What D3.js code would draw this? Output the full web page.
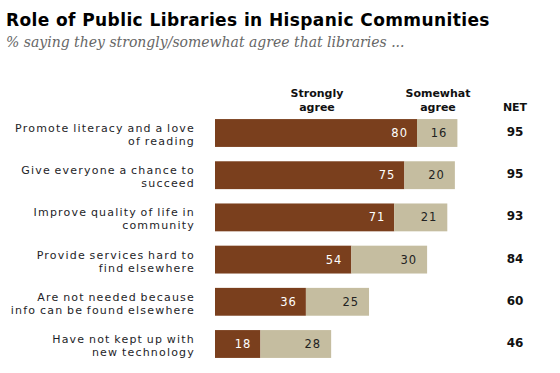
<!DOCTYPE html>
<html>
<head>
<meta charset="utf-8">
<script src="https://cdn.jsdelivr.net/npm/d3@7"></script>
<style>
  body { margin: 0; background: #fff; }
  svg { display: block; }
  .label { font-family: "DejaVu Sans", sans-serif; font-size: 11px; fill: #1e1e28; letter-spacing: 1.2px; word-spacing: -1px; }
  .val { font-family: "DejaVu Sans", sans-serif; font-size: 11.5px; letter-spacing: 1px; }
  .head { font-family: "DejaVu Sans", sans-serif; font-size: 11px; font-weight: bold; fill: #111; }
  .net { font-family: "DejaVu Sans", sans-serif; font-size: 12px; font-weight: bold; fill: #111; }
</style>
</head>
<body>
<div id="chart"></div>
<script>
var items = [
    ["Promote literacy and a love", "of reading"],
    ["Give everyone a chance to", "succeed"],
    ["Improve quality of life in", "community"],
    ["Provide services hard to", "find elsewhere"],
    ["Are not needed because", "info can be found elsewhere"],
    ["Have not kept up with", "new technology"]
];
var strongly = [80, 75, 71, 54, 36, 18];
var somewhat = [16, 20, 21, 30, 25, 28];
var net = [95, 95, 93, 84, 60, 46];

var W = 560, H = 373;

var svg = d3.select("#chart").append("svg")
    .attr("width", W)
    .attr("height", H);

// title + subtitle
svg.append("text")
    .attr("x", 6).attr("y", 26)
    .style("font-family", "'DejaVu Sans', Arial, sans-serif")
    .style("font-size", "17px")
    .style("font-weight", "bold")
    .style("letter-spacing", "0.4px")
    .style("fill", "#000")
    .text("Role of Public Libraries in Hispanic Communities");

svg.append("text")
    .attr("x", 6).attr("y", 47)
    .style("font-family", "'DejaVu Serif', Georgia, serif")
    .style("font-style", "italic")
    .style("font-size", "14px")
    .style("fill", "#666")
    .text("% saying they strongly/somewhat agree that libraries ...");

var x = d3.scaleLinear()
    .domain([0, 100])
    .range([215, 215 + 252.5]);

var y = d3.scaleBand()
    .domain(d3.range(items.length))
    .range([119 - 14.2 * 0.5, 358 + 14.2 * 0.5])
    .paddingInner(0.34)
    .paddingOuter(0.17);

// column headers
var heads = [
    {lines: ["Strongly", "agree"], cx: 317},
    {lines: ["Somewhat", "agree"], cx: 438},
    {lines: ["", "NET"], cx: 515}
];
heads.forEach(function(h){
    h.lines.forEach(function(l, i){
        svg.append("text")
            .attr("class", "head")
            .attr("x", h.cx)
            .attr("y", 97 + i * 14)
            .attr("text-anchor", "middle")
            .text(l);
    });
});

var rows = svg.selectAll(".row")
    .data(items)
    .enter().append("g")
    .attr("class", "row")
    .attr("transform", function(d, i){ return "translate(0," + y(i) + ")"; });

var bh = y.bandwidth();

rows.append("text")
    .attr("class", "label")
    .attr("text-anchor", "end")
    .attr("x", 195)
    .attr("y", bh / 2 - 1)
    .text(function(d){ return d[0]; });

rows.append("text")
    .attr("class", "label")
    .attr("text-anchor", "end")
    .attr("x", 195)
    .attr("y", bh / 2 + 12)
    .text(function(d){ return d[1]; });

rows.append("rect")
    .attr("x", x(0))
    .attr("width", function(d, i){ return x(strongly[i]) - x(0); })
    .attr("height", bh)
    .style("fill", "#7a3f1d");

rows.append("rect")
    .attr("x", function(d, i){ return x(strongly[i]); })
    .attr("width", function(d, i){ return x(strongly[i] + somewhat[i]) - x(strongly[i]); })
    .attr("height", bh)
    .style("fill", "#c5bda0");

rows.append("text")
    .attr("class", "val")
    .attr("text-anchor", "end")
    .attr("x", function(d, i){ return x(strongly[i]) - 9; })
    .attr("y", bh / 2 + 4)
    .style("fill", "#fff")
    .text(function(d, i){ return strongly[i]; });

rows.append("text")
    .attr("class", "val")
    .attr("text-anchor", "end")
    .attr("x", function(d, i){ return x(strongly[i] + somewhat[i]) - 10; })
    .attr("y", bh / 2 + 4)
    .style("fill", "#222")
    .text(function(d, i){ return somewhat[i]; });

rows.append("text")
    .attr("class", "net")
    .attr("text-anchor", "middle")
    .attr("x", 515)
    .attr("y", bh / 2 + 3)
    .text(function(d, i){ return net[i]; });
</script>
</body>
</html>
